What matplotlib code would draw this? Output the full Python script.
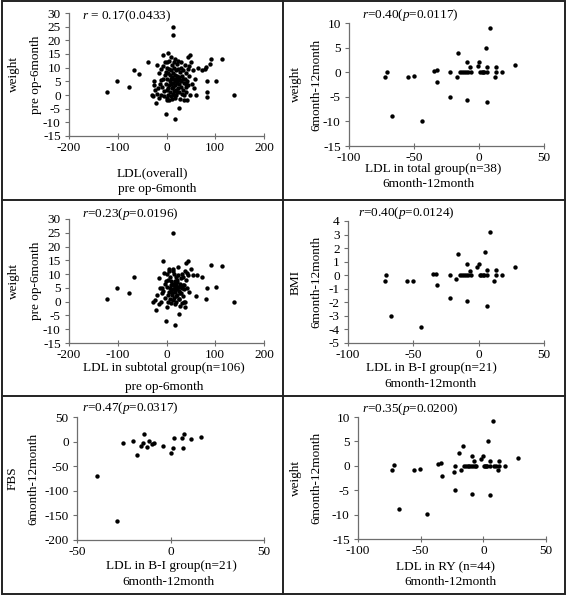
"""Six-panel scatter figure: LDL change vs weight / BMI / FBS change."""

import matplotlib

matplotlib.use("Agg")

import matplotlib.pyplot as plt
from matplotlib.lines import Line2D
from matplotlib.patches import Rectangle

plt.rcParams["font.family"] = ["Liberation Serif", "DejaVu Serif"]
plt.rcParams["mathtext.fontset"] = "custom"
plt.rcParams["mathtext.rm"] = "Liberation Serif"
plt.rcParams["mathtext.it"] = "Liberation Serif:italic"
plt.rcParams["axes.unicode_minus"] = False

W, H = 567, 597

# ---- data ----
# panel 1: LDL(overall) vs weight, pre op-6month
p1_ldl = [
    -123, -102, -77, -67, -57, -38, 139, 113, 92, 101,
    13, 14, 17, -2, 26, -22, 83, 83, 83, 89,
    82, 78, 72, 65, 61, 44, 48, -8, 3,
    -30, -25, -20, -18, -15, -14, -12, -10, -8, -7,
    -5, -5, -3, -2, 0, 0, 1, 2, 3, 4,
    5, 5, 6, 7, 8, 8, 9, 10, 10, 11,
    12, 12, 13, 13, 14, 14, 15, 15, 16, 16,
    17, 17, 18, 18, 19, 19, 20, 20, 21, 21,
    22, 23, 23, 24, 25, 25, 26, 27, 28, 29,
    30, 30, 31, 32, 33, 34, 35, 36, 37, 38,
    39, 40, 41, 42, 44, 45, 47, 48, 50, 52,
    55, 57, 58, -26, -16, -11, -4, -1, 2, 4,
    6, 9, 11, 15, 18, 22, 24, 27, 29, 33,
    35, 40, 43, 46, -20, -12, -28, -23, 0, 10,
]
p1_weight = [
    1, 5, 3, 9, 7.8, 12, 0, 13, 13, 5,
    25, 22, -8.8, -6.8, -4.7, -3, -0.6, 1.2, 5, 11.5,
    10.3, 9.4, 9, 9.7, 0, 14, 14.5, 14.8, 15.4,
    0, 5, 0.5, 2.5, 8, 4, 0, 3, 10.5, 6,
    1.5, -0.5, 7.5, 4, 2, -2, 10, 6, 0, 8,
    3.5, -2, 12.5, 5, 1, 7.5, 9, 4, -0.5, 2.5,
    6.5, 11, 0.5, 8, 4.5, 3, 6, 10, 1.5, 12,
    5, 7.5, 3.5, -1, 9, 2, 6, 0, 4.5, 11.5,
    7, 2.5, 5.5, 9.5, 1, 4, 6.5, -1.5, 8.5, 3,
    10, 5, 0.5, 7, 2, 9, 4.5, -2, 6, 11,
    3, 8, 1, 5, 9.5, 3.5, 7, 0, 12, 4,
    9.3, 2.5, 6, 3.5, -1, 5.5, 12, 8.5, -1, 2.5,
    9.5, 6, -1.5, 0, 13, 1, 12.5, 5.5, 12, 6,
    0, 4, -2, 10.5, 11, 9.5, -0.5, 2, 12, 14,
]

# panel 2: LDL in total group vs weight, 6month-12month
p2_ldl = [
    -72, -71, -67, -55, -50, -44, -35, -32.5, -32, -22,
    -22, -17, -16, -14.6, -11.5, -10, -8.5, -9, -9, -7,
    -6, -1, 0, 2, 4, 5, 6.4, 6.4, 6.4, 8.5,
    12, 13, 13, 18, 28, 3, -13, 1,
]
p2_weight = [
    -1, 0, -9, -1, -0.8, -10, 0.3, 0.4, -2, 0,
    -5, -1, 4, 0, 0, 0, 0, 2, -5.6, 1,
    0, 1.2, 2, 0, 0, 5, 1, 0, -6, 9,
    -1, 1, 0, 0, 1.5, 0, 0, 0,
]

# panel 3: LDL in subtotal group vs weight, pre op-6month
p3_ldl = [
    -122, -102, -77, -67, 139, 113, 92, 101, 13, 17,
    -2, 26, -22, 37, 81, 84, 72, 63, 45, 39,
    -8, -28, -24, -19, -15, -13, -11, -9, -6, -4,
    -3, -1, 0, 1, 2, 3, 4, 5, 6, 7,
    8, 9, 10, 10, 11, 12, 13, 13, 14, 15,
    15, 16, 17, 17, 18, 18, 19, 20, 20, 21,
    22, 22, 23, 24, 25, 26, 27, 28, 29, 30,
    31, 32, 33, 34, 35, 36, 38, 40, 42, 44,
    47, 50, 55, 60, -16, -7, 4, 9, 14, 19,
    24, 28, 33, 38, 12, 16, 21, 8, 27, 31,
    5, 18, -10, 25, 35, 43,
]
p3_weight = [
    1, 5, 3, 9, 0, 12.8, 13.2, 5.2, 25, -8.3,
    -6.9, -4.5, -2.9, -2, 1, 5, 9, 9.8, 14.6, 14,
    14.6, 0, 0.5, 2.5, 8.5, 5, 0, 3, 10.5, 6.5,
    1.5, 7.5, -2, 10, 5.5, 0, 8, 3.5, 12, 5,
    1, 7.5, 4, -0.5, 2.5, 6.5, 11, 0.5, 4.5, 6,
    10, 1.5, 5, 7.5, 3.5, -1, 9, 6, 0, 4.5,
    7, 2.5, 5.5, 9.5, 1, 4, 6.5, -1.5, 8.5, 3,
    10, 5, 2, 9, 4.5, 6, 11, 8, 5, 9.5,
    3.5, 12, 9.5, 2, -1, 4, 2.5, 6, 12, 2,
    12.5, 5.5, 6, 0, 3, 4.5, 8, 9, 3, -0.5,
    11, 7, 5, 1, 0, 10.5,
]

# panel 4: LDL in B-I group vs BMI, 6month-12month
p4_ldl = [
    -72, -71, -67, -55, -50, -44, -35, -32.5, -32, -22,
    -22, -17, -16, -14.6, -11.5, -10, -8.5, -9, -9, -7,
    -6, -1, 0, 2, 4, 5, 6.4, 6.4, 6.4, 8.5,
    12, 13, 13, 18, 28, 3, -13, 1,
]
p4_bmi = [
    -0.4, 0, -3, -0.4, -0.4, -3.8, 0.1, 0.1, -0.7, 0,
    -1.7, -0.3, 1.6, 0, 0, 0, 0, 0.8, -1.9, 0.3,
    0, 0.6, 0.8, 0, 0, 1.7, 0.4, 0, -2.3, 3.2,
    -0.4, 0.4, 0, 0, 0.6, 0, 0, 0,
]

# panel 5: LDL in B-I group vs FBS, 6month-12month
p5_ldl = [
    -39.5, -28.8, -25.6, -19.9, -17.8, -15.8, -14.6, -14, -12.8, -11.5,
    -10.1, -8.9, -3.9, 0.2, 1.1, 2, 5.9, 7.1, 6.7, 11.2,
    16.2,
]
p5_fbs = [
    -70, -161, -3, 2, -28, -8, -2, 15, -11, 1,
    -4, -2, -8, -23, -12, 8, 8, 15, -12, 5,
    9,
]

# panel 6: LDL in RY vs weight, 6month-12month
p6_ldl = [
    -72.6, -71.2, -67.3, -55.3, -50.5, -44.6, -36, -33.4, -32.6, -23.3,
    -22.5, -22.5, -19.8, -17.9, -16.6, -15.3, -12.6, -11.3, -9.9, -9.4,
    -9.4, -7.8, -6.8, -2, -0.6, 0.7, 2, 3.2, 3.9, 5.5,
    5.5, 5.5, 7.4, 8.7, 11.4, 12.7, 12.7, 17.2, 27.3, -8.5,
    -5.5, 1.5, 10, -14,
]
p6_weight = [
    -0.9, 0.1, -8.8, -0.9, -0.7, -9.9, 0.4, 0.5, -2, -1.3,
    0, -4.9, 2.6, -0.9, 4.1, 0, 0, 0, 0, 2.1,
    -5.7, 1, 0, 1.4, 2.1, 0, 0, 0, 5.1, 1,
    0, -5.9, 9.1, 0, -0.9, 1, 0, 0, 1.5, 0,
    0, 0, 0, 0,
]


def fx(px: float) -> float:
    return px / W


def fy(py: float) -> float:
    return 1 - py / H


def add_panel(fig, box, x, y, xlim, xstep, ylim, ystep, note, note_xy,
              ylabs, ylab_xs, xlabs, xlab_pos):
    left, top, right, bottom = box
    ax = fig.add_axes([fx(left), fy(bottom), (right - left) / W, (bottom - top) / H])
    ax.scatter(x, y, s=10, c="black", linewidths=0, clip_on=False, zorder=3)
    ax.set_xlim(*xlim)
    ax.set_ylim(*ylim)
    ax.set_xticks(range(xlim[0], xlim[1] + 1, xstep))
    ax.set_yticks(range(ylim[0], ylim[1] + 1, ystep))
    for side in ("top", "right"):
        ax.spines[side].set_visible(False)
    for side in ("left", "bottom"):
        ax.spines[side].set_color("#6e6e6e")
        ax.spines[side].set_linewidth(0.9)
    ax.tick_params(axis="both", colors="#6e6e6e", labelcolor="black",
                   labelsize=9.5, length=3, width=0.8)
    ax.tick_params(axis="x", pad=2, direction="inout", length=5)
    ax.tick_params(axis="y", pad=3)
    ax.patch.set_alpha(0)

    fig.text(fx(note_xy[0]), fy(note_xy[1]), note, fontsize=9.5,
             ha="left", va="center")
    cy = (top + bottom) / 2
    for lab, lx in zip(ylabs, ylab_xs):
        fig.text(fx(lx), fy(cy), lab, rotation=90, fontsize=9.5,
                 ha="center", va="center")
    for lab, (lx, ly) in zip(xlabs, xlab_pos):
        fig.text(fx(lx), fy(ly), lab, fontsize=9.5, ha="center", va="center")
    return ax


fig = plt.figure(figsize=(W / 100, H / 100), dpi=100)

add_panel(fig, (69, 13, 264, 136), p1_ldl, p1_weight, (-200, 200), 100, (-15, 30), 5,
          r"$r$ = 0.17(0.0433)", (82, 16),
          ["weight", "pre op-6month"], [14, 36],
          ["LDL(overall)", "pre op-6month"], [(152, 173), (157, 189)])

add_panel(fig, (349, 23, 544, 146), p2_ldl, p2_weight, (-100, 50), 50, (-15, 10), 5,
          r"$r$=0.40($p$=0.0117)", (362, 15),
          ["weight", "6month-12month"], [296, 316],
          ["LDL in total group(n=38)", "6month-12month"], [(433, 169), (428, 184)])

add_panel(fig, (69, 219, 264, 343), p3_ldl, p3_weight, (-200, 200), 100, (-15, 30), 5,
          r"$r$=0.23($p$=0.0196)", (82, 214),
          ["weight", "pre op-6month"], [14, 36],
          ["LDL in subtotal group(n=106)", "pre op-6month"], [(164, 368), (164, 387)])

add_panel(fig, (348, 221, 544, 343), p4_ldl, p4_bmi, (-100, 50), 50, (-5, 4), 1,
          r"$r$=0.40($p$=0.0124)", (358, 213),
          ["BMI", "6month-12month"], [296, 316],
          ["LDL in B-I group(n=21)", "6month-12month"], [(431, 368), (430, 384)])

add_panel(fig, (77, 417, 264, 540), p5_ldl, p5_fbs, (-50, 50), 50, (-200, 50), 50,
          r"$r$=0.47($p$=0.0317)", (82, 408),
          ["FBS", "6month-12month"], [13, 33],
          ["LDL in B-I group(n=21)", "6month-12month"], [(171, 566), (168, 582)])

add_panel(fig, (358, 417, 546, 539), p6_ldl, p6_weight, (-100, 50), 50, (-15, 10), 5,
          r"$r$=0.35($p$=0.0200)", (362, 409),
          ["weight", "6month-12month"], [296, 316],
          ["LDL in RY (n=44)", "6month-12month"], [(446, 567), (450, 582)])

# panel frames
fig.add_artist(Rectangle((fx(2), fy(594)), fx(565) - fx(2), fy(1) - fy(594),
                         transform=fig.transFigure, fill=False,
                         edgecolor="#222222", linewidth=1.4))
for line in (
    Line2D([fx(283), fx(283)], [fy(1), fy(594)]),
    Line2D([fx(2), fx(565)], [fy(200), fy(200)]),
    Line2D([fx(2), fx(565)], [fy(396), fy(396)]),
):
    line.set_transform(fig.transFigure)
    line.set_color("#222222")
    line.set_linewidth(1.4)
    fig.add_artist(line)

fig.savefig("out.png", dpi=100)
